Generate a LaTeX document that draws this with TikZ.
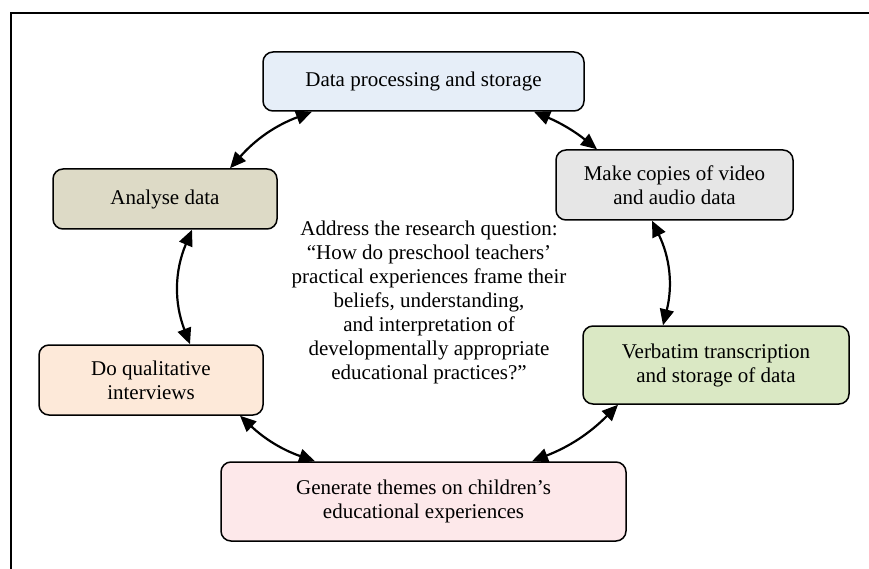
\documentclass[tikz,border=0pt]{standalone}
\usepackage{fontspec}
\setmainfont{Liberation Serif}
\usetikzlibrary{arrows.meta}
\definecolor{cdp}{HTML}{E6EEF8}
\definecolor{cmc}{HTML}{E6E6E6}
\definecolor{can}{HTML}{DDDAC6}
\definecolor{cdq}{HTML}{FDE9D9}
\definecolor{cgt}{HTML}{FDE8EA}
\definecolor{cvb}{HTML}{DAE8C4}
\begin{document}
\begin{tikzpicture}[x=1pt,y=-1pt,
  box/.style={draw, line width=1.5pt, rounded corners=10pt, align=center,
    font=\fontsize{21}{24}\selectfont, inner sep=0pt},
  conn/.style={<->, >={Triangle[length=16pt,width=14pt]}, line width=2.2pt},
  frame/.style={line width=1.3pt}]
\useasboundingbox (0,0) rectangle (869,569);
\draw[frame] (11,569) -- (11,13) -- (869,13);

\node[box, fill=cdp, minimum width=321pt, minimum height=59pt] (dp) at (423.5,81.5) {Data processing and storage};
\node[box, fill=cmc, minimum width=237pt, minimum height=70pt] (mc) at (674.5,185) {Make copies of video\\and audio data};
\node[box, fill=cvb, minimum width=266pt, minimum height=78pt] (vb) at (716,365) {Verbatim transcription\\and storage of data};
\node[box, fill=cgt, minimum width=405pt, minimum height=79pt] (gt) at (423.5,501.5) {Generate themes on children’s\\educational experiences};
\node[box, fill=cdq, minimum width=224pt, minimum height=70pt] (dq) at (151,380) {Do qualitative\\interviews};
\node[box, fill=can, minimum width=224pt, minimum height=60pt] (an) at (165,199) {Analyse data};

\node[align=center, font=\fontsize{21}{24}\selectfont, inner sep=0pt] (q) at (429,302)
 {Address the research question:\\“How do preschool teachers’\\practical experiences frame their\\beliefs, understanding,\\and interpretation of\\developmentally appropriate\\educational practices?”};

\draw[conn] (230,0 |- an.north) to[bend left=14] (312,0 |- dp.south);
\draw[conn] (534,0 |- dp.south) to[bend left=8] (597,0 |- mc.north);
\draw[conn] (652,0 |- mc.south) to[bend left=20] (663,0 |- vb.north);
\draw[conn] (618,0 |- vb.south) to[bend left=12] (532,0 |- gt.north);
\draw[conn] (315,0 |- gt.north) to[bend left=12] (240,0 |- dq.south);
\draw[conn] (190,0 |- dq.north) to[bend left=22] (192,0 |- an.south);
\end{tikzpicture}
\end{document}
